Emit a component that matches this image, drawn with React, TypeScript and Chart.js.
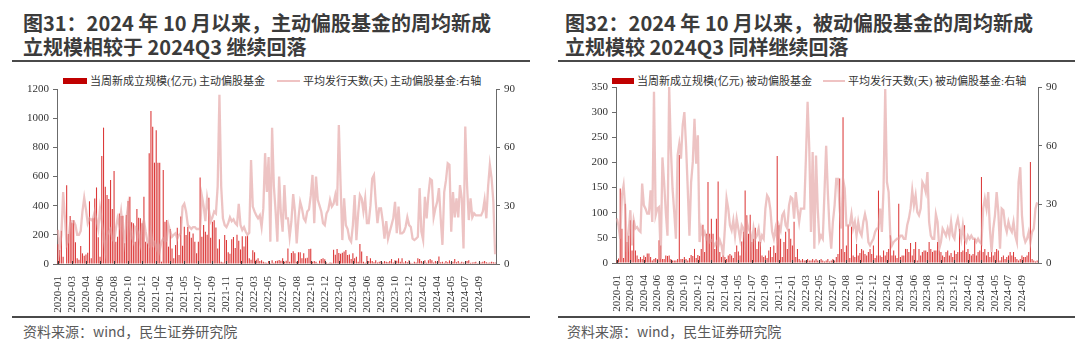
import React, { useEffect, useRef } from 'react';
import { Chart, registerables } from 'chart.js';

Chart.register(...registerables);

// x-axis tick labels (one every 8 weeks)
const tickLabels = [
  '2020-01', '2020-03', '2020-04', '2020-06', '2020-08', '2020-10', '2020-12',
  '2021-02', '2021-04', '2021-05', '2021-07', '2021-09', '2021-11',
  '2022-01', '2022-03', '2022-05', '2022-07', '2022-08', '2022-10', '2022-12',
  '2023-02', '2023-04', '2023-06', '2023-08', '2023-10', '2023-12',
  '2024-02', '2024-04', '2024-05', '2024-07', '2024-09',
];

// 当周新成立规模(亿元) 主动偏股基金 (weekly)
const activeNew = [
  135, 96, 228, 50, 0, 540, 205, 330, 285, 300,
  150, 40, 30, 123, 73, 57, 66, 78, 430, 40,
  313, 450, 525, 183, 50, 740, 935, 530, 473, 446,
  576, 377, 638, 153, 187, 347, 330, 331, 142, 336,
  432, 462, 286, 279, 153, 377, 318, 313, 279, 462,
  153, 142, 759, 1049, 942, 695, 917, 695, 695, 16,
  645, 290, 302, 119, 240, 107, 39, 130, 249, 62,
  325, 126, 256, 199, 256, 222, 180, 210, 153, 73,
  153, 594, 187, 267, 222, 200, 455, 180, 290, 300,
  250, 107, 170, 15, 10, 199, 165, 80, 70, 170,
  185, 110, 200, 160, 100, 190, 120, 190, 194, 40,
  30, 95, 80, 30, 40, 20, 25, 15, 10, 8,
  20, 6, 25, 8, 20, 23, 27, 23, 39, 16,
  23, 107, 16, 75, 87, 73, 16, 80, 80, 39,
  73, 39, 43, 103, 105, 16, 20, 16, 5, 23,
  34, 39, 32, 11, 5, 11, 9, 98, 64, 103,
  75, 70, 78, 85, 96, 62, 66, 34, 73, 39,
  50, 15, 137, 85, 15, 8, 55, 20, 40, 20,
  12, 25, 10, 15, 20, 10, 20, 15, 12, 20,
  34, 10, 25, 22, 39, 15, 39, 10, 20, 12,
  25, 8, 5, 15, 10, 39, 34, 20, 12, 25,
  8, 25, 34, 25, 10, 20, 15, 52, 12, 15,
  8, 20, 12, 25, 10, 15, 34, 12, 20, 8,
  15, 10, 12, 20, 25, 8, 10, 12, 15, 5,
  12, 10, 15, 20, 12, 8, 10, 15, 12, 10,
];

// 平均发行天数(天) 主动偏股基金 (right axis)
const activeDays = [
  17.5, 8, 15, 37, 24, 10, 12, 21, 22, 22,
  20, 15, 15, 17, 27, 34, 28, 21, 23.5, 22.6,
  23.5, 27, 22.6, 18, 28.6, 22, 14, 7, 15, 16.6,
  18, 13, 11.5, 18, 23.5, 20, 27, 18, 11.5, 23.5,
  30, 20, 14, 11.5, 19, 18, 15, 10.6, 20, 22.6,
  16.6, 11.5, 9.8, 16.6, 9.8, 11, 8, 11, 7, 11.5,
  13, 11.5, 12.3, 20, 16.6, 14, 15, 15.8, 13, 15,
  15.8, 29.5, 31, 27, 20, 19, 18, 19, 19, 18,
  18, 18, 35, 30, 22, 34, 28, 22, 24, 27,
  26, 40, 87, 40, 23.5, 20, 19, 21, 24, 22,
  23, 21, 20, 31, 20, 17.5, 19, 16.6, 15, 16,
  53.5, 29.5, 27, 25, 23.5, 25, 19, 28.6, 57, 37,
  55, 11.5, 70, 40, 27, 11.5, 45, 26, 16.6, 40.6,
  23.5, 23.5, 14, 22, 36, 27, 10.6, 23.5, 32, 28.6,
  23.5, 22, 27, 28, 35, 45.8, 21, 45, 33, 30,
  27, 21, 20, 26, 27.8, 33, 29.5, 31, 35.5, 30,
  71.5, 40.6, 12.3, 33.8, 20, 18, 13, 11.5, 20, 35.5,
  12.3, 26, 35.5, 33.8, 27, 33.8, 21, 21, 30, 44,
  45.8, 32, 21, 28.6, 28.6, 22, 13, 22, 13, 16.6,
  20, 23.5, 32, 15.8, 29.5, 15.8, 15.8, 16.6, 19, 24,
  20, 19, 13, 12.3, 13, 14, 39, 16.6, 12.3, 34.6,
  23.5, 35.5, 43.7, 43, 24, 28.6, 32, 39, 23.5, 9.8,
  37, 43, 51.8, 51, 16.6, 37, 24, 33.8, 24, 40.6,
  33.8, 8, 70.7, 40.6, 22.6, 33.8, 24, 26, 25, 25,
  25, 25, 27, 33, 23.5, 39.8, 51, 44, 32, 5,
];

// 当周新成立规模(亿元) 被动偏股基金 (weekly)
const passiveNew = [
  5, 9, 148, 68, 10, 118, 42, 54, 85, 25,
  85, 25, 15, 8, 12, 8, 15, 12, 19, 19,
  12, 5, 8, 10, 8, 45, 35, 8, 8, 15,
  14, 15, 8, 5, 5, 5, 8, 215, 8, 8,
  12, 8, 5, 10, 16, 14, 28, 10, 16, 14,
  28, 76, 22, 58, 161, 58, 88, 58, 28, 88,
  162, 22, 12, 15, 12, 8, 15, 18, 15, 10,
  22, 35, 23, 15, 43, 62, 144, 95, 58, 96,
  42, 48, 70, 28, 43, 42, 15, 12, 15, 10,
  25, 32, 12, 35, 20, 213, 75, 48, 12, 42,
  62, 28, 68, 48, 35, 82, 12, 28, 8, 5,
  8, 5, 5, 8, 5, 5, 8, 5, 8, 5,
  5, 8, 5, 3, 5, 8, 3, 5, 8, 5,
  12, 18, 168, 28, 290, 22, 35, 75, 10, 72,
  15, 12, 38, 15, 20, 28, 25, 18, 15, 22,
  28, 18, 35, 10, 15, 144, 15, 12, 25, 15,
  22, 28, 55, 15, 25, 15, 10, 118, 12, 15,
  15, 28, 28, 22, 40, 15, 28, 42, 5, 28,
  15, 22, 25, 25, 22, 42, 28, 22, 25, 25,
  42, 25, 22, 15, 12, 22, 25, 15, 20, 12,
  25, 18, 22, 68, 22, 25, 75, 22, 28, 18,
  15, 18, 48, 15, 22, 25, 171, 22, 28, 15,
  22, 12, 22, 15, 22, 28, 25, 5, 12, 15,
  8, 12, 15, 22, 15, 22, 12, 8, 5, 8,
  15, 12, 12, 15, 22, 201, 8, 5, 3, 5,
];

// 平均发行天数(天) 被动偏股基金 (right axis)
const passiveDays = [
  22.7, 19, 12.4, 34.6, 39.7, 27.8, 5.6, 15.9, 27, 9,
  21.8, 17.6, 18.4, 16.7, 15.9, 40.6, 29.5, 27.8, 25.2, 25.2,
  37.2, 21, 87.5, 24.4, 27.8, 28.6, 2.2, 54, 41.4, 26,
  14, 90, 58.5, 38, 26, 12.4, 55, 61, 53.4, 70.4,
  77.2, 60, 38, 14, 41.4, 51.7, 73.8, 50.8, 65.3, 10.7,
  17.6, 14, 15.9, 12.4, 14, 10.7, 11.6, 10.7, 9, 10.7,
  8.2, 11.6, 9, 3.9, 17.6, 33, 27.8, 19.3, 16.7, 21.8,
  14, 22.7, 17.6, 12.4, 19.3, 17.6, 10.7, 21, 17.6, 15.9,
  9, 17.6, 12.4, 14, 17.6, 10.7, 14, 12.4, 27.8, 34.6,
  33, 27, 15.9, 12.4, 17.6, 12.4, 19.3, 16.7, 24.4, 26,
  19.3, 17.6, 29.5, 33.8, 33, 22.7, 36.3, 27.8, 21, 27.8,
  27.8, 27.8, 53.4, 82.4, 58.5, 15.9, 56.8, 7.3, 55, 27.8,
  11.6, 14, 12.4, 36, 60, 36, 17.6, 7.3, 21, 29.5,
  43, 43, 27.8, 17.6, 43, 38, 19.3, 19.3, 19.3, 25,
  17.6, 21, 14, 21, 15.9, 14, 21, 25, 21, 10.7,
  9, 10.7, 12.4, 15.9, 17.6, 17.6, 27.8, 15.9, 38, 89,
  41.4, 36.3, 14, 9, 10.7, 11.6, 12.4, 12.4, 14, 14,
  12.4, 12.4, 19.3, 22.7, 27.8, 37.2, 29.5, 34.6, 26, 24.4,
  27.8, 41.4, 39.7, 36.3, 46.5, 21, 14, 12.4, 12.4, 25,
  21, 7.3, 10.7, 17.6, 15.9, 14, 17.6, 14, 21, 14,
  12.4, 19.3, 22.7, 17.6, 12.4, 19.3, 12.4, 10.7, 14, 12.4,
  14, 12.4, 12.4, 10.7, 12.4, 10.7, 9.8, 27.8, 33, 27.8,
  36.3, 17.6, 5.6, 17.6, 24.4, 36.3, 26, 7.3, 27.8, 27,
  19.3, 15.9, 21, 17.6, 15.9, 21, 14, 10.7, 41.4, 49,
  24.4, 14, 10.7, 12.4, 15.9, 10.7, 15.9, 17.6, 27.8, 31,
];

const BAR_COLOR = '#DC3A3A';
const LINE_COLOR = 'rgba(226,158,158,0.62)';
const AXIS_COLOR = '#6b6b6b';
const TICK_FONT = { family: "'Liberation Serif', 'Times New Roman', serif", size: 11 };
const TICK_COLOR = '#333333';

function buildCategories(n: number): string[] {
  return Array.from({ length: n }, (_, i) =>
    i % 8 === 0 && tickLabels[i / 8] ? tickLabels[i / 8] : ''
  );
}

const innerTicks = {
  id: 'innerTicks',
  afterDatasetsDraw(chart: any) {
    const xs = chart.scales.x;
    const ctx = chart.ctx;
    const labels: string[] = chart.data.labels;
    ctx.save();
    ctx.strokeStyle = '#3a3a3a';
    ctx.lineWidth = 1;
    labels.forEach((l, i) => {
      if (!l) return;
      const x = Math.round(xs.getPixelForValue(i)) + 0.5;
      ctx.beginPath();
      ctx.moveTo(x, chart.chartArea.bottom);
      ctx.lineTo(x, chart.chartArea.bottom - 3);
      ctx.stroke();
    });
    ctx.restore();
  },
};

interface PanelProps {
  left: number;
  bars: number[];
  days: number[];
  barLabel: string;
  lineLabel: string;
  yMax: number;
  yStep: number;
  leftW: number;
  rightW: number;
  topPad: number;
  bottomH: number;
}

function ChartPanel(p: PanelProps) {
  const ref = useRef<HTMLCanvasElement>(null);
  useEffect(() => {
    if (!ref.current) return;
    const cats = buildCategories(p.bars.length);
    const chart = new Chart(ref.current, {
      type: 'bar',
      data: {
        labels: cats,
        datasets: [
          {
            type: 'line',
            label: p.lineLabel,
            data: p.days,
            yAxisID: 'y1',
            borderColor: LINE_COLOR,
            borderWidth: 2.3,
            pointRadius: 0,
            tension: 0,
            order: 0,
          } as any,
          {
            type: 'bar',
            label: p.barLabel,
            data: p.bars,
            yAxisID: 'y',
            backgroundColor: BAR_COLOR,
            barPercentage: 0.62,
            categoryPercentage: 1,
            order: 1,
          } as any,
        ],
      },
      options: {
        animation: false,
        responsive: false,
        maintainAspectRatio: false,
        layout: { padding: { top: p.topPad, left: 0, right: 0, bottom: 0 } },
        plugins: { legend: { display: false }, tooltip: { enabled: false } },
        scales: {
          x: {
            grid: { display: false },
            border: { display: true, color: AXIS_COLOR, width: 1 },
            ticks: {
              autoSkip: false,
              maxRotation: 90,
              minRotation: 90,
              padding: 4,
              font: TICK_FONT,
              color: TICK_COLOR,
              callback: (_v: any, i: number) => cats[i],
            },
            afterFit: (s: any) => {
              s.height = p.bottomH;
            },
          },
          y: {
            position: 'left',
            min: 0,
            max: p.yMax,
            ticks: {
              stepSize: p.yStep,
              font: TICK_FONT,
              color: TICK_COLOR,
              padding: 4,
              callback: (v: any) => String(v),
            },
            grid: { drawOnChartArea: false, tickLength: 4, color: AXIS_COLOR },
            border: { display: true, color: AXIS_COLOR, width: 1 },
            afterFit: (s: any) => {
              s.width = p.leftW;
            },
          },
          y1: {
            position: 'right',
            min: 0,
            max: 90,
            ticks: {
              stepSize: 30,
              font: TICK_FONT,
              color: TICK_COLOR,
              padding: 4,
              callback: (v: any) => String(v),
            },
            grid: { drawOnChartArea: false, tickLength: 4, color: AXIS_COLOR },
            border: { display: true, color: AXIS_COLOR, width: 1 },
            afterFit: (s: any) => {
              s.width = p.rightW;
            },
          },
        },
      } as any,
      plugins: [innerTicks],
    });
    return () => chart.destroy();
  }, []);
  return (
    <canvas
      ref={ref}
      width={540}
      height={252}
      style={{ position: 'absolute', left: p.left, top: 64, width: 540, height: 252 }}
    />
  );
}

const titleStyle: React.CSSProperties = {
  position: 'absolute',
  top: 11,
  fontFamily: '"Noto Sans CJK SC", sans-serif',
  fontWeight: 700,
  fontSize: 20,
  lineHeight: '23.5px',
  color: '#3b3b3b',
  whiteSpace: 'nowrap',
};

const legendText: React.CSSProperties = {
  position: 'absolute',
  top: 74,
  fontFamily: '"Liberation Serif", "Noto Sans CJK SC", serif',
  fontSize: 11,
  lineHeight: '14px',
  color: '#333',
  whiteSpace: 'nowrap',
};

const sourceStyle: React.CSSProperties = {
  position: 'absolute',
  top: 322,
  fontFamily: '"Noto Sans CJK SC", sans-serif',
  fontSize: 14,
  lineHeight: '18px',
  color: '#595959',
  whiteSpace: 'nowrap',
};

function Rule({ left, width, top }: { left: number; width: number; top: number }) {
  return (
    <div style={{ position: 'absolute', left, top, width, height: 2, background: '#4a4a4a' }} />
  );
}

export default function App() {
  return (
    <div
      style={{
        position: 'absolute',
        left: 0,
        top: 0,
        width: 1080,
        height: 355,
        background: '#fff',
        overflow: 'hidden',
      }}
    >
      {/* Left panel */}
      <div style={{ ...titleStyle, left: 23 }}>
        图31：2024 年 10 月以来，主动偏股基金的周均新成
        <br />
        立规模相较于 2024Q3 继续回落
      </div>
      <Rule left={12} width={518} top={60} />
      <div style={{ position: 'absolute', left: 63, top: 78, width: 24, height: 6, background: '#C00000' }} />
      <div style={{ ...legendText, left: 90 }}>当周新成立规模(亿元) 主动偏股基金</div>
      <div style={{ position: 'absolute', left: 277, top: 80, width: 23, height: 2, background: '#EFC3C3' }} />
      <div style={{ ...legendText, left: 303 }}>平均发行天数(天) 主动偏股基金:右轴</div>
      <ChartPanel
        left={0}
        bars={activeNew}
        days={activeDays}
        barLabel="当周新成立规模(亿元) 主动偏股基金"
        lineLabel="平均发行天数(天) 主动偏股基金:右轴"
        yMax={1200}
        yStep={200}
        leftW={57}
        rightW={44}
        topPad={25}
        bottomH={52}
      />
      <Rule left={12} width={518} top={316} />
      <div style={{ ...sourceStyle, left: 23 }}>资料来源：wind，民生证券研究院</div>

      {/* Right panel */}
      <div style={{ ...titleStyle, left: 565 }}>
        图32：2024 年 10 月以来，被动偏股基金的周均新成
        <br />
        立规模较 2024Q3 同样继续回落
      </div>
      <Rule left={558} width={517} top={60} />
      <div style={{ position: 'absolute', left: 612, top: 78, width: 22, height: 6, background: '#C00000' }} />
      <div style={{ ...legendText, left: 637 }}>当周新成立规模(亿元) 被动偏股基金</div>
      <div style={{ position: 'absolute', left: 823, top: 80, width: 22, height: 2, background: '#EFC3C3' }} />
      <div style={{ ...legendText, left: 848 }}>平均发行天数(天) 被动偏股基金:右轴</div>
      <ChartPanel
        left={540}
        bars={passiveNew}
        days={passiveDays}
        barLabel="当周新成立规模(亿元) 被动偏股基金"
        lineLabel="平均发行天数(天) 被动偏股基金:右轴"
        yMax={350}
        yStep={50}
        leftW={76}
        rightW={42}
        topPad={23}
        bottomH={53}
      />
      <Rule left={558} width={517} top={316} />
      <div style={{ ...sourceStyle, left: 567 }}>资料来源：wind，民生证券研究院</div>
    </div>
  );
}
